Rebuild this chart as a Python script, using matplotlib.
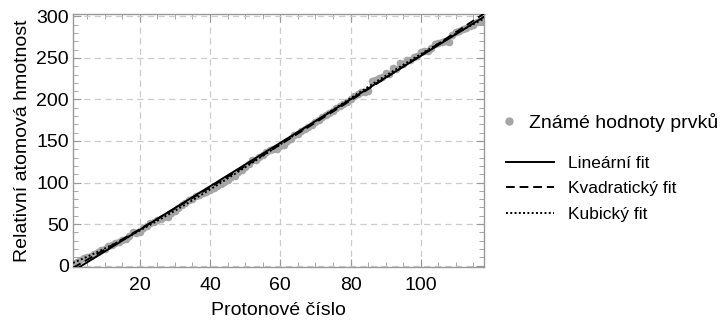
import numpy as np
import matplotlib
matplotlib.use("Agg")
import matplotlib.pyplot as plt
from matplotlib.lines import Line2D

plt.rcParams['font.family'] = ['Liberation Sans', 'DejaVu Sans']

# known relative atomic masses, Z = 1..118
proton_numbers = list(range(1, 119))
atomic_masses = [
    1.008, 4.0026, 6.94, 9.0122, 10.81, 12.011, 14.007, 15.999, 18.998, 20.180,
    22.990, 24.305, 26.982, 28.085, 30.974, 32.06, 35.45, 39.948, 39.098, 40.078,
    44.956, 47.867, 50.942, 51.996, 54.938, 55.845, 58.933, 58.693, 63.546, 65.38,
    69.723, 72.630, 74.922, 78.971, 79.904, 83.798, 85.468, 87.62, 88.906, 91.224,
    92.906, 95.95, 98, 101.07, 102.91, 106.42, 107.87, 112.41, 114.82, 118.71,
    121.76, 127.60, 126.90, 131.29, 132.91, 137.33, 138.91, 140.12, 140.91, 144.24,
    145, 150.36, 151.96, 157.25, 158.93, 162.50, 164.93, 167.26, 168.93, 173.05,
    174.97, 178.49, 180.95, 183.84, 186.21, 190.23, 192.22, 195.08, 196.97, 200.59,
    204.38, 207.2, 208.98, 209, 210, 222, 223, 226, 227, 232.04,
    231.04, 238.03, 237, 244, 243, 247, 247, 251, 252, 257,
    258, 259, 262, 267, 268, 269, 270, 269, 278, 281,
    282, 285, 286, 289, 290, 293, 294, 294,
]
xticks = [20, 40, 60, 80, 100]
yticks = [0, 50, 100, 150, 200, 250, 300]

z = np.array(proton_numbers, dtype=float)
a = np.array(atomic_masses)
zz = np.linspace(1, 118, 400)
fit1 = np.polyval(np.polyfit(z, a, 1), zz)
fit2 = np.polyval(np.polyfit(z, a, 2), zz)
fit3 = np.polyval(np.polyfit(z, a, 3), zz)

fig = plt.figure(figsize=(7.26, 3.23), dpi=100)
ax = fig.add_axes([73/726, 1-267/323, 411/726, 253/323])

ax.plot(z, a, 'o', color='#a6a6a6', markersize=5.5, markeredgewidth=0, zorder=2)
ax.plot(zz, fit1, color='black', lw=1.4, zorder=3)
ax.plot(zz, fit2, color='black', lw=1.4, dashes=(4.5, 2.5), zorder=3)
ax.plot(zz, fit3, color='black', lw=1.4, dashes=(1, 1.2), zorder=3)

ax.set_xlim(1, 118)
ax.set_ylim(-1.8, 303)
ax.set_xticks(xticks)
ax.set_yticks(yticks)
ax.set_xticks(np.arange(5, 118, 5), minor=True)
ax.set_yticks(np.arange(10, 301, 10), minor=True)
ax.grid(True, which='major', color='#cccccc', linestyle=(0, (5, 3.5)), lw=0.9)
ax.set_axisbelow(True)
for s in ax.spines.values():
    s.set_color('#999999')
    s.set_linewidth(1)
ax.tick_params(which='both', direction='in', top=True, right=True, color='#999999',
               labelsize=14)
ax.tick_params(which='major', length=6)
ax.tick_params(which='minor', length=3.5)
ax.tick_params(axis='x', pad=7)
ax.tick_params(axis='y', pad=3)
ax.set_xlabel('Protonové číslo', fontsize=14, labelpad=6)
ax.set_ylabel('Relativní atomová hmotnost', fontsize=14, labelpad=4)

# legend
h1 = [Line2D([], [], marker='o', linestyle='', color='#a6a6a6', markersize=6, markeredgewidth=0)]
leg1 = fig.legend(h1, ['Známé hodnoty prvků'], loc='center left', bbox_to_anchor=(0.664, 0.62),
                  frameon=False, fontsize=14, handlelength=1.0, handletextpad=0.5)
h2 = [Line2D([], [], color='black', lw=1.4),
      Line2D([], [], color='black', lw=1.4, dashes=(4.5, 2.5)),
      Line2D([], [], color='black', lw=1.4, dashes=(1, 1.2))]
leg2 = fig.legend(h2, ['Lineární fit', 'Kvadratický fit', 'Kubický fit'], loc='upper left',
                  bbox_to_anchor=(0.675, 0.567), frameon=False, fontsize=12.5,
                  handlelength=2.8, handletextpad=0.8, labelspacing=0.6)

fig.savefig('out.png', dpi=100)
